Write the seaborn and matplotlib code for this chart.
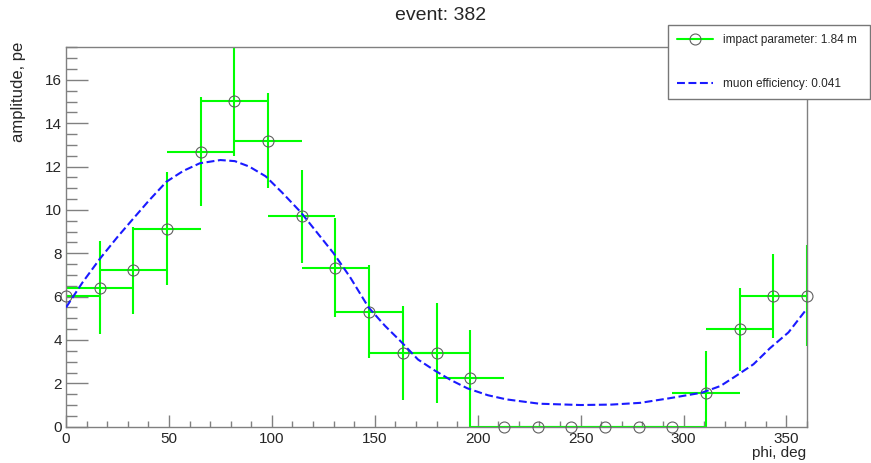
import numpy as np
import matplotlib
matplotlib.use('Agg')
import matplotlib.pyplot as plt
from matplotlib.lines import Line2D
from matplotlib.ticker import MultipleLocator
import seaborn as sns

# Measured amplitudes per phi bin (read from the event display)
phi = [0, 16.4, 32.7, 49.1, 65.5, 81.8, 98.2, 114.5, 130.9, 147.3, 163.6, 180,
       196.4, 212.7, 229.1, 245.5, 261.8, 278.2, 294.5, 310.9, 327.3, 343.6, 360]
amp = [6.05, 6.42, 7.22, 9.13, 12.69, 15.03, 13.2, 9.7, 7.34, 5.31, 3.4, 3.4,
       2.23, 0, 0, 0, 0, 0, 0, 1.55, 4.49, 6.03, 6.03]
amp_err = [2.15, 2.15, 2.0, 2.6, 2.52, 2.53, 2.2, 2.13, 2.3, 2.14, 2.17, 2.3,
           2.25, 0, 0, 0, 0, 0, 0, 1.92, 1.9, 1.92, 2.33]
phi_err = [16.36] * len(phi)

# Fitted muon ring model
curve_phi = [0, 8, 16.5, 25, 32.7, 40, 48.8, 57, 65, 75, 82, 89, 97, 105, 114,
             122, 130, 138, 147, 155, 163, 171, 179, 187, 195, 205, 214, 230,
             250, 265, 279, 293, 309, 318, 325, 334, 342, 351, 360]
curve_amp = [5.5, 6.65, 7.75, 8.75, 9.6, 10.4, 11.3, 11.8, 12.15, 12.3, 12.25,
             12.0, 11.55, 10.8, 9.9, 8.95, 8.0, 6.9, 5.5, 4.65, 3.9, 3.1, 2.6,
             2.15, 1.77, 1.45, 1.26, 1.06, 1.0, 1.02, 1.1, 1.31, 1.57, 1.88,
             2.31, 2.88, 3.62, 4.35, 5.45]

title = 'event: 382'
label_points = 'impact parameter: 1.84 m'
label_curve = 'muon efficiency: 0.041'

sns.set_style('white')
plt.rcParams['font.family'] = ['Liberation Sans', 'DejaVu Sans']

W, H = 871, 463
fig = plt.figure(figsize=(W / 100, H / 100), dpi=100)
ax = fig.add_axes([66 / W, 36.3 / H, 741 / W, 379.4 / H])

green = '#00ff00'
marker_col = '#606060'
blue = '#1a1aff'

ax.errorbar(phi, amp, xerr=phi_err, yerr=amp_err, fmt='none',
            ecolor=green, elinewidth=1.5, capsize=0, zorder=2)
ax.plot(phi, amp, linestyle='none', marker='o', ms=7.9, mfc='none',
        mec=marker_col, mew=0.8, clip_on=False, zorder=3)
sns.lineplot(x=curve_phi, y=curve_amp, ax=ax, color=blue, lw=1.5,
             linestyle=(0, (3.8, 1.7)), sort=False, estimator=None, zorder=4)

ax.set_xlim(0, 360)
ax.set_ylim(0, 17.5)
ax.xaxis.set_major_locator(MultipleLocator(50))
ax.xaxis.set_minor_locator(MultipleLocator(10))
ax.yaxis.set_major_locator(MultipleLocator(2))
ax.yaxis.set_minor_locator(MultipleLocator(0.5))

gray = '#808080'
for s in ax.spines.values():
    s.set_color(gray)
    s.set_linewidth(1.0)
ax.tick_params(which='both', direction='in', color=gray, labelsize=11,
               left=True, bottom=True, right=False, top=False)
ax.tick_params(axis='y', which='major', length=15.8, width=1.0, pad=3)
ax.tick_params(axis='y', which='minor', length=7.9, width=1.0)
ax.tick_params(axis='x', which='major', length=8.6, width=1.0, pad=4)
ax.tick_params(axis='x', which='minor', length=4.3, width=1.0)

ax.set_xlabel('')
ax.set_ylabel('')
fig.text(806 / W, 1 - 453 / H, 'phi, deg', ha='right', va='center', fontsize=11)
fig.text(18 / W, 1 - 42 / H, 'amplitude, pe', ha='center', va='top',
         rotation=90, fontsize=12)
fig.text(441 / W, 1 - 16 / H, title, ha='center', va='center', fontsize=14)

handles = [
    Line2D([], [], color=green, lw=1.5, marker='o', ms=7.9, mfc='none',
           mec=marker_col, mew=0.8),
    Line2D([], [], color=blue, lw=1.5, linestyle=(0, (3.8, 1.7))),
]
leg = fig.legend(handles, [label_points, label_curve], loc='upper left',
                 bbox_to_anchor=(668 / W, 1 - 25 / H, 202 / W, 0),
                 mode='expand', fontsize=8.5, frameon=True, fancybox=False,
                 framealpha=1, edgecolor='#777777', handlelength=3.1,
                 handletextpad=0.8, borderpad=0.75, labelspacing=2.75,
                 borderaxespad=0)
leg.get_frame().set_linewidth(1.0)

fig.savefig('out.png', dpi=100)
